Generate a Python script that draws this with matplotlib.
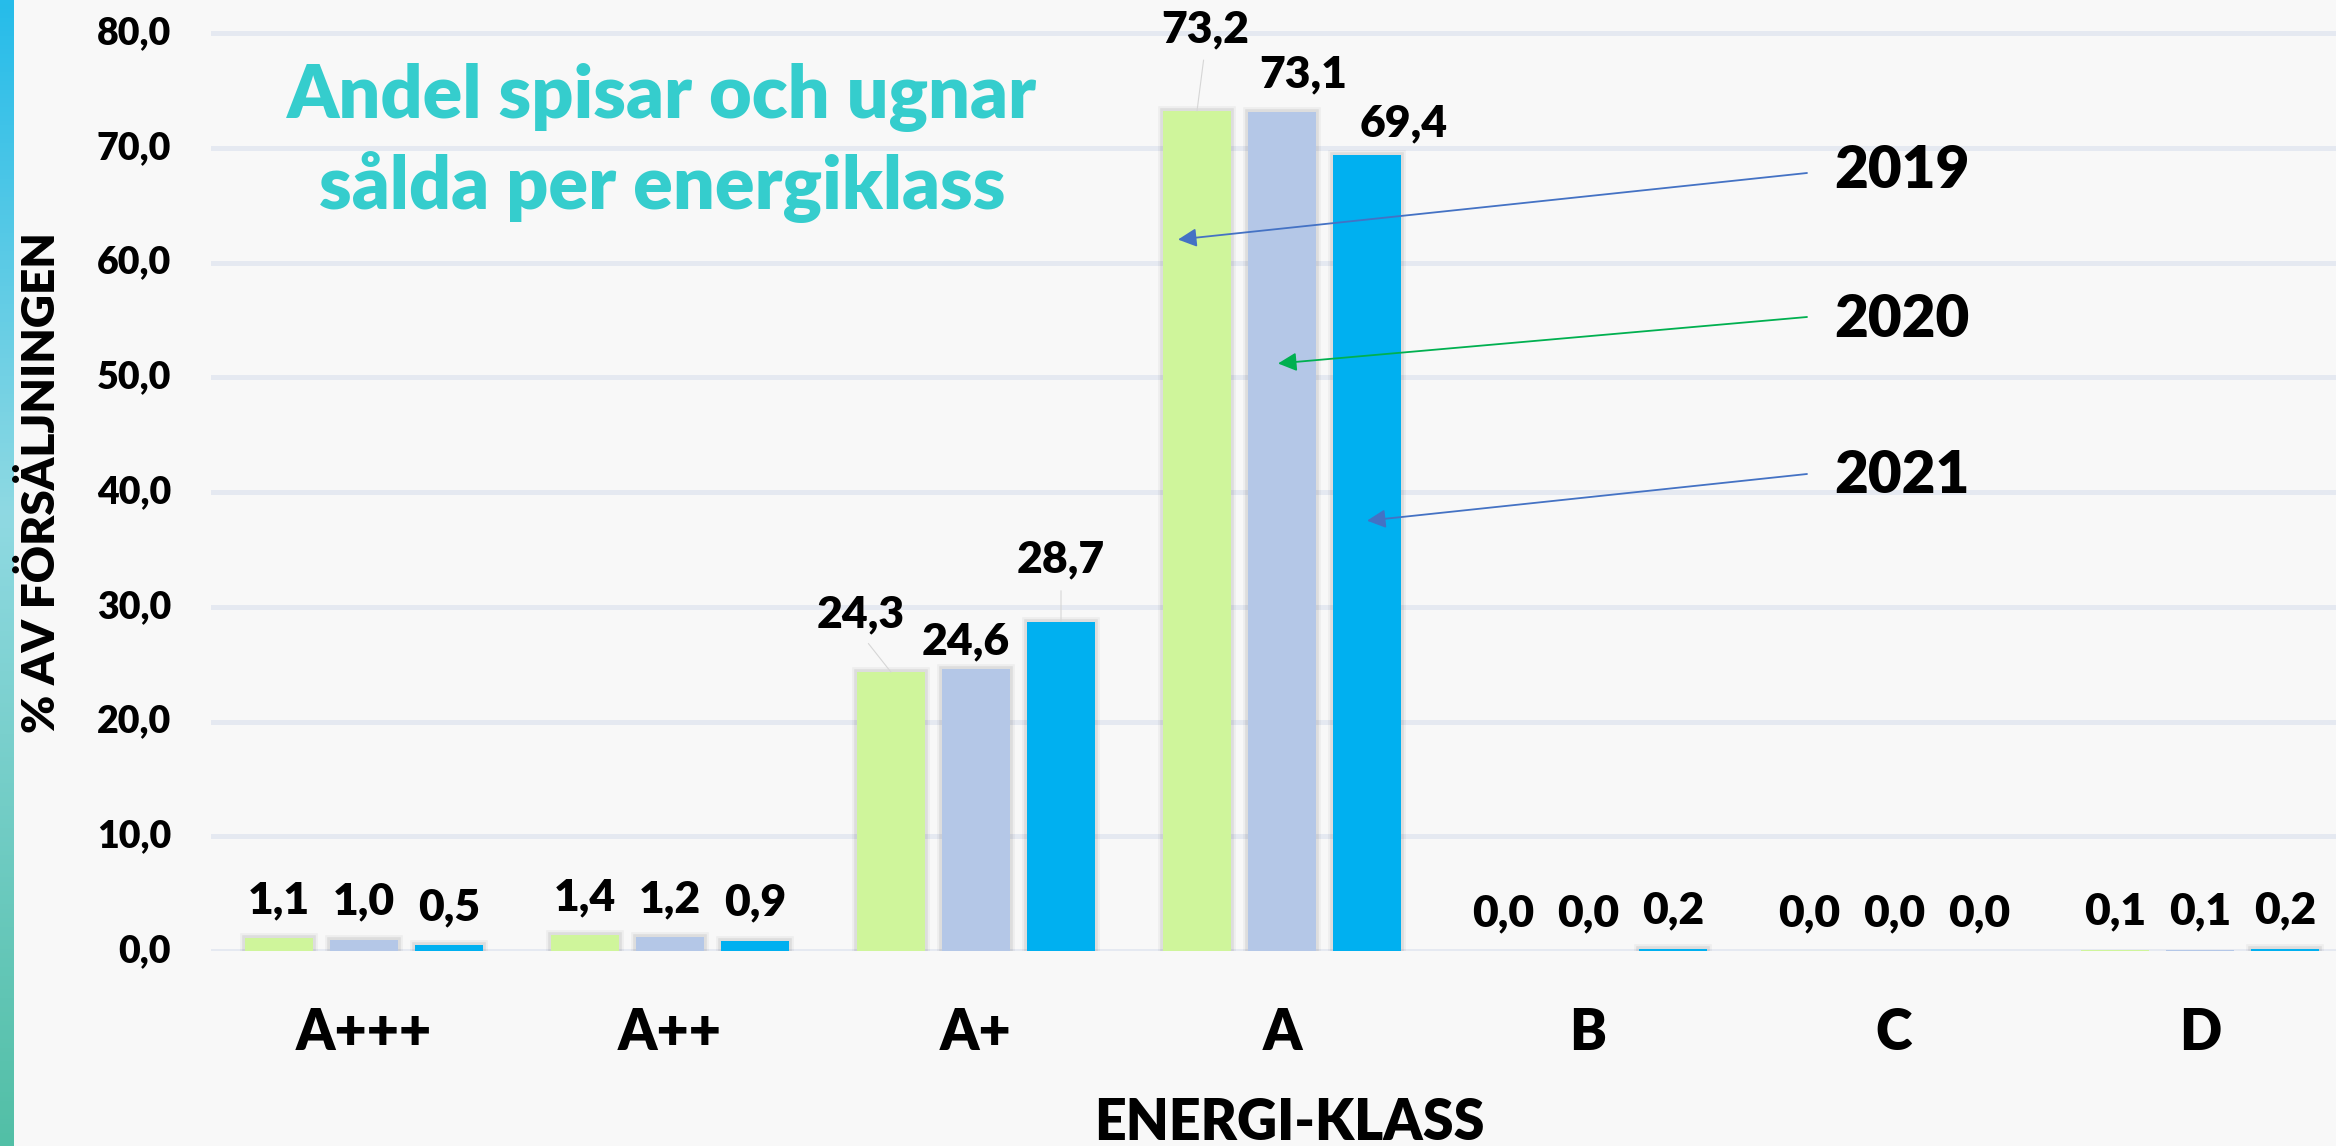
import numpy as np
import matplotlib.pyplot as plt
from matplotlib import patheffects as pe
from matplotlib.colors import LinearSegmentedColormap
from matplotlib.transforms import offset_copy

# Data
klasser = ['A+++', 'A++', 'A+', 'A', 'B', 'C', 'D']
ar = ['2019', '2020', '2021']
andel_2019 = [1.1, 1.4, 24.3, 73.2, 0.0, 0.0, 0.1]
andel_2020 = [1.0, 1.2, 24.6, 73.1, 0.0, 0.0, 0.1]
andel_2021 = [0.5, 0.9, 28.7, 69.4, 0.2, 0.0, 0.2]
y_ticks = [0, 10, 20, 30, 40, 50, 60, 70, 80]

serier = [andel_2019, andel_2020, andel_2021]
farger = ['#CFF59B', '#B4C7E7', '#00B0F0']
pil_farger = ['#4472C4', '#00B050', '#4472C4']

W, H = 2336, 1146
plt.rcParams['font.family'] = ['Lato', 'DejaVu Sans']
VIKT = 'heavy'

fig = plt.figure(figsize=(W / 100, H / 100), dpi=100, facecolor='#F8F8F8')

# coloured strip on the left edge
strip = fig.add_axes([0, 0, 14 / W, 1])
grad = np.linspace(0, 1, 256)[:, None]
cmap = LinearSegmentedColormap.from_list('strip', [(0, '#26BCEA'), (0.45, '#8FD9E2'), (1, '#52BFA6')])
strip.imshow(grad, aspect='auto', cmap=cmap, extent=[0, 1, 0, 1], origin='upper')
strip.axis('off')

# main axes: x=-0.5 at px 211, 306 px per category, y 0 at px 951, 11.475 px per unit
px_x, px_y = 306, 11.475
ax = fig.add_axes([211 / W, (H - 951) / H, (W - 211) / W, 941 / H])
ax.set_facecolor('#F8F8F8')
ax.set_xlim(-0.5, -0.5 + (W - 211) / px_x)
ax.set_ylim(0, 941 / px_y)

x = np.arange(len(klasser))
bredd = 68 / px_x
steg = 85 / px_x

skugga = [pe.Stroke(linewidth=7, foreground='#000000', alpha=0.04),
          pe.Stroke(linewidth=4, foreground='#000000', alpha=0.07),
          pe.Normal()]

# label offsets in pixels (dx, baseline above bar top), leader flag
default_off = (0, 25, False)
label_off = {
    (3, 0): (8, 69, True),
    (2, 0): (-30, 45, True),
    (2, 2): (0, 49, True),
    (2, 1): (-10, 14, False),
    (3, 2): (37, 18, False),
    (3, 1): (21, 25, False),
}

for i, (vals, col) in enumerate(zip(serier, farger)):
    pos = x + (i - 1) * steg
    bars = ax.bar(pos, vals, width=bredd, color=col, zorder=3)
    for j, (b, v) in enumerate(zip(bars, vals)):
        if v > 0.15:
            b.set_path_effects(skugga)
        dx, dy, leader = label_off.get((j, i), default_off)
        txt = f'{v:.1f}'.replace('.', ',')
        pil = None
        if leader:
            pil = dict(arrowstyle='-', color='#D6D6D6', lw=0.8,
                       relpos=(0.5, 0), shrinkA=6, shrinkB=0)
        ax.annotate(txt, xy=(pos[j], v), xytext=(dx, dy), textcoords='offset pixels',
                    ha='center', va='baseline', fontsize=32, fontweight=VIKT,
                    color='black', zorder=5, arrowprops=pil)

# y tick labels, right edge 40 px left of the axes
ax.set_yticks(y_ticks)
ax.set_yticklabels([])
ytrans = offset_copy(ax.get_yaxis_transform(), fig=fig, x=-40, y=0, units='dots')
for t in y_ticks:
    ax.text(0, t, f'{t:.1f}'.replace('.', ','), transform=ytrans, ha='right', va='center',
            fontsize=27, fontweight=VIKT, color='black', clip_on=False)

ax.set_xticks(x, klasser)
ax.yaxis.grid(True, color='#E5E9F1', linewidth=3.6, zorder=0)
ax.set_axisbelow(True)
for s in ax.spines.values():
    s.set_visible(False)
ax.tick_params(axis='y', length=0)
ax.tick_params(axis='x', length=0, pad=40, labelsize=40)
for lab in ax.get_xticklabels():
    lab.set_fontweight(VIKT)

# year callouts with arrows into the A group
ia = klasser.index('A')
pil_y = [62.0, 51.2, 37.5]
pil_dx = [-19 / px_x, -4 / px_x, 0]
text_y = [188, 337, 493]
start_y = [173, 317, 474]
for i in range(3):
    tip = (ia + (i - 1) * steg + pil_dx[i], pil_y[i])
    ax.annotate('', xy=tip, xycoords='data', xytext=(1807, H - start_y[i]),
                textcoords='figure pixels', zorder=6,
                arrowprops=dict(arrowstyle='-|>', color=pil_farger[i], lw=1.3,
                                mutation_scale=28, shrinkA=0, shrinkB=0))
    fig.text(1834 / W, 1 - text_y[i] / H, ar[i], ha='left', va='baseline',
             fontsize=42, fontweight=VIKT, color='black')

# title
titel_farg = '#35CDCD'
fig.text(662 / W, 1 - 118 / H, 'Andel spisar och ugnar', ha='center', va='baseline',
         fontsize=53, fontweight=VIKT, color=titel_farg)
fig.text(662 / W, 1 - 209 / H, 'sålda per energiklass', ha='center', va='baseline',
         fontsize=53, fontweight=VIKT, color=titel_farg)

# axis titles
fig.text(41 / W, 1 - 483 / H, '% AV FÖRSÄLJNINGEN', rotation=90, ha='center', va='center',
         fontsize=33, fontweight=VIKT, color='black')
fig.text(1289 / W, 1 - 1140 / H, 'ENERGI-KLASS', ha='center', va='baseline',
         fontsize=40, fontweight=VIKT, color='black')

fig.savefig('out.png', dpi=100, facecolor=fig.get_facecolor())
